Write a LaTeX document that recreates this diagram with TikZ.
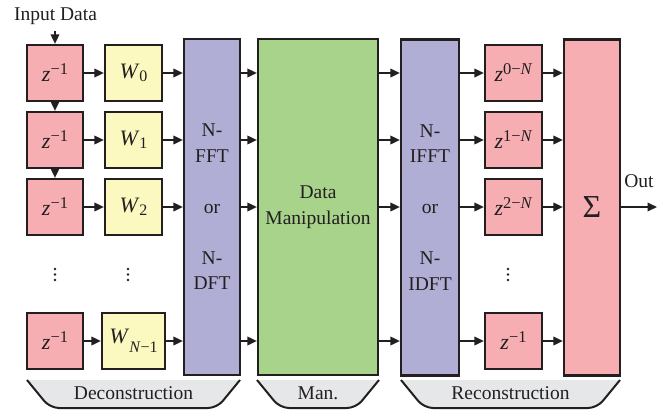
\documentclass[tikz,border=0pt]{standalone}
\usepackage{fontspec}
\setmainfont{Liberation Serif}
\usetikzlibrary{arrows.meta}
\definecolor{pinkc}{RGB}{246,174,178}
\definecolor{yelc}{RGB}{251,248,192}
\definecolor{purc}{RGB}{177,174,214}
\definecolor{grnc}{RGB}{168,211,139}
\definecolor{gryc}{RGB}{230,231,232}
\definecolor{linec}{RGB}{35,31,32}
\newcommand\zexp[1]{\textit{z}\raisebox{7pt}{\fontsize{16.5}{16.5}\selectfont #1}}
\newcommand\wsub[2][2.5pt]{\textit{W}\raisebox{-#1}{\fontsize{16}{16}\selectfont #2}}
\begin{document}
\begin{tikzpicture}[x=1pt,y=-1pt,
  font=\fontsize{19.5}{25.5}\selectfont,
  box/.style={draw=linec, line width=2.2pt, inner sep=0pt, minimum height=56pt, text=linec},
  zbox/.style={box, fill=pinkc, minimum width=56pt, font=\fontsize{22}{25}\selectfont},
  wbox/.style={box, fill=yelc, minimum width=57pt, font=\fontsize{22}{25}\selectfont},
  tall/.style={box, minimum height=336pt, align=center},
  arr/.style={draw=linec, line width=1.8pt, -{Triangle[length=9.5pt,width=8.5pt]}},
  brk/.style={fill=gryc, draw=linec, line width=2pt, rounded corners=9pt},
  lbl/.style={text=linec, inner sep=0pt}]
\useasboundingbox (0,0) rectangle (667,410);

% left delay boxes
\node[zbox] (zl1) at (55,73) {\zexp{−1}};
\node[zbox] (zl2) at (55,140) {\zexp{−1}};
\node[zbox] (zl3) at (55,207) {\zexp{−1}};
\node[zbox] (zl4) at (55,341) {\zexp{−1}};
% weights
\node[wbox] (w1) at (133.5,73) {\wsub{0}};
\node[wbox] (w2) at (133.5,140) {\wsub{1}};
\node[wbox] (w3) at (133.5,207) {\wsub{2}};
\node[wbox, minimum width=63pt] (w4) at (133.5,341) {\raisebox{3pt}{\wsub[9pt]{\textit{N}−1}}};
% tall blocks
\node[tall, fill=purc, minimum width=56pt] (fft) at (212,207) {N-\\FFT\\[25.5pt]or\\[25.5pt]N-\\DFT};
\node[tall, fill=grnc, minimum width=120pt] (man) at (318,207) {Data\\Manipulation};
\node[tall, fill=purc, minimum width=58pt] (ifft) at (430,207.5) {N-\\IFFT\\[25.5pt]or\\[25.5pt]N-\\IDFT};
\node[tall, fill=pinkc, minimum width=56pt] (sum) at (592,207.5) {\fontsize{32}{32}\selectfont Σ};
% right delay boxes
\node[zbox, minimum width=57pt] (zr1) at (513.5,73) {\zexp{0−\textit{N}}};
\node[zbox, minimum width=57pt] (zr2) at (513.5,140) {\zexp{1−\textit{N}}};
\node[zbox, minimum width=57pt] (zr3) at (513.5,207) {\zexp{2−\textit{N}}};
\node[zbox, minimum width=57pt] (zr4) at (513.5,341) {\zexp{−1}};

% labels
\node[lbl] (inp) at (55.5,16) {Input Data};
\node[lbl] (out) at (639,181) {Out};
\coordinate (inc) at (55,31);
\coordinate (outc) at (657,207);

% vertical chain
\draw[arr] (inc) -- (zl1.north);
\draw[arr] (zl1) -- (zl2);
\draw[arr] (zl2) -- (zl3);

% row arrows
\foreach \r in {1,2,3,4}{
  \draw[arr] (zl\r) -- (w\r);
  \draw[arr] (w\r) -- (w\r -| fft.west);
  \draw[arr] (fft.east |- w\r) -- (man.west |- w\r);
  \draw[arr] (man.east |- zr\r) -- (ifft.west |- zr\r);
  \draw[arr] (ifft.east |- zr\r) -- (zr\r);
  \draw[arr] (zr\r) -- (zr\r -| sum.west);
}
\draw[arr] (sum.east |- outc) -- (outc);

% dots
\foreach \x in {55,128,508}{
  \foreach \y in {269,274.5,280}{\fill[linec] (\x,\y) circle (1.3);}
}

% bottom brackets
\path[brk] (27,380) -- (50,408) -- (217,408) -- (240,380);
\path[brk] (257,380) -- (280,408) -- (356,408) -- (379,380);
\path[brk] (401,380) -- (424,408) -- (597,408) -- (620,380);
\node[lbl] (dec) at (133.5,393) {Deconstruction};
\node[lbl] (mn) at (318,393) {Man.};
\node[lbl] (rec) at (510.5,393) {Reconstruction};
\end{tikzpicture}
\end{document}
